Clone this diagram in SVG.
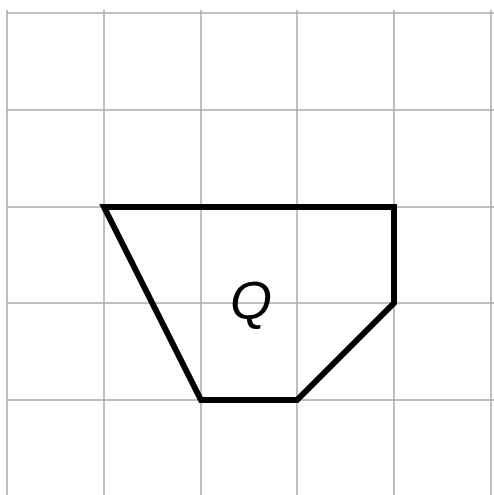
<svg xmlns="http://www.w3.org/2000/svg" width="494" height="495" viewBox="0 0 494 495">
<style>
.grid line{stroke:#aaaaaa;stroke-width:1.5}
.shape{fill:none;stroke:#000;stroke-width:6;stroke-linejoin:miter}
.lbl{font-family:"Liberation Sans",Arial,sans-serif;font-style:italic;font-size:54px;fill:#000}
</style>
<rect width="494" height="495" fill="#fff"/>
<g id="grid" class="grid">
<line x1="7" y1="10" x2="7" y2="495"/>
<line x1="104" y1="10" x2="104" y2="495"/>
<line x1="201" y1="10" x2="201" y2="495"/>
<line x1="297" y1="10" x2="297" y2="495"/>
<line x1="394" y1="10" x2="394" y2="495"/>
<line x1="491" y1="10" x2="491" y2="495"/>
<line x1="7" y1="13" x2="494" y2="13"/>
<line x1="7" y1="110" x2="494" y2="110"/>
<line x1="7" y1="207" x2="494" y2="207"/>
<line x1="7" y1="303" x2="494" y2="303"/>
<line x1="7" y1="400" x2="494" y2="400"/>
</g>
<g id="Q">
<polygon class="shape" points="104,207 394,207 394,303 297,400 201,400"/>
<text class="lbl" x="251" y="319" text-anchor="middle">Q</text>
</g>
</svg>
